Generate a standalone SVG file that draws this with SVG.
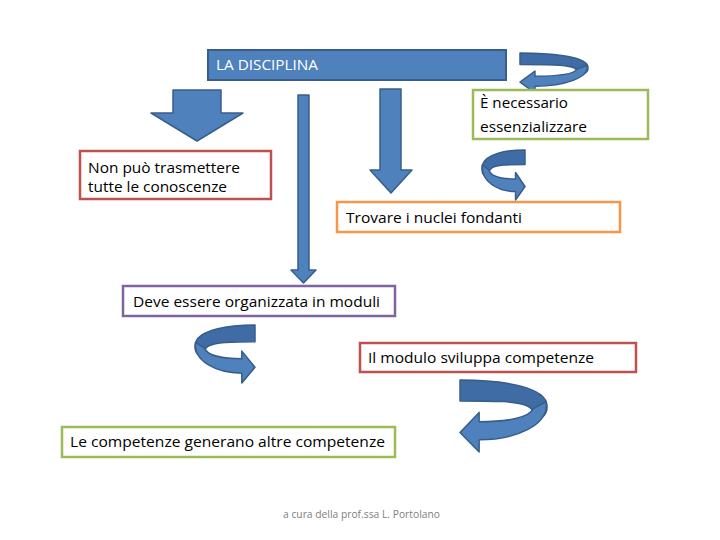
<svg xmlns="http://www.w3.org/2000/svg" width="720" height="540" viewBox="0 0 720 540">
<style>
.box{fill:#fff;stroke-width:2.5}
.t{font-family:"Open Sans","Liberation Sans",sans-serif;font-size:14.5px;fill:#000}
.arr{fill:#4F81BD;stroke:#385D8A;stroke-width:1.5;stroke-linejoin:round}
.back{fill:#3F6CA5;stroke:#385D8A;stroke-width:1.5;vector-effect:non-scaling-stroke;stroke-linejoin:round}
.front{fill:#4F81BD;stroke:#385D8A;stroke-width:1.5;vector-effect:non-scaling-stroke;stroke-linejoin:round}
</style>
<defs>
<g id="curl">
<path class="back" d="M0,0 C45,0 92,8 99,30 C101,38 100,45 96,50 L82,46 C86,38 75,32 50,30 C30,29 15,29 0,29 Z"/>
<path class="front" d="M99,30 C103,62 65,83 22,83 L22,100 L0,73 L22,45 L22,58 C55,58 80,52 84,40 Z"/>
</g>
</defs>
<rect width="720" height="540" fill="#fff"/>
<g id="connectors">
<path class="arr" d="M173,90 H221 V113 H243 L197,141 L151,113 H173 Z"/>
<path class="arr" d="M298,95 H309 V270 H316 L303.5,283 L291,270 H298 Z"/>
<path class="arr" d="M380,89 H401 V170 H412 L391,193 L370,170 H380 Z"/>
<use href="#curl" transform="translate(520,53) scale(0.68,0.40)"/>
<use href="#curl" transform="translate(525,150) scale(-0.43,0.50)"/>
<use href="#curl" transform="translate(255,325) scale(-0.60,0.58)"/>
<use href="#curl" transform="translate(460,380) scale(0.87,0.72)"/>
</g>
<g id="n-disciplina">
<rect x="208" y="50" width="298" height="30" fill="#4F81BD" stroke="#385D8A" stroke-width="2"/>
<text class="t" x="216" y="70" style="fill:#fff" textLength="102" lengthAdjust="spacingAndGlyphs">LA DISCIPLINA</text>
</g>
<g id="n-nonpuo">
<rect class="box" x="80" y="151" width="191" height="48" stroke="#C0504D"/>
<text class="t" x="88" y="173" textLength="152" lengthAdjust="spacingAndGlyphs">Non può trasmettere</text>
<text class="t" x="88" y="192" textLength="139" lengthAdjust="spacingAndGlyphs">tutte le conoscenze</text>
</g>
<g id="n-necessario">
<rect class="box" x="473" y="90" width="175" height="49" stroke="#9BBB59"/>
<text class="t" x="480" y="108" textLength="88" lengthAdjust="spacingAndGlyphs">È necessario</text>
<text class="t" x="480" y="132" textLength="107" lengthAdjust="spacingAndGlyphs">essenzializzare</text>
</g>
<g id="n-trovare">
<rect class="box" x="337" y="202" width="283" height="30" stroke="#F79646"/>
<text class="t" x="346" y="223" textLength="176" lengthAdjust="spacingAndGlyphs">Trovare i nuclei fondanti</text>
</g>
<g id="n-deve">
<rect class="box" x="123" y="286" width="272" height="30" stroke="#8064A2"/>
<text class="t" x="133" y="307" textLength="247" lengthAdjust="spacingAndGlyphs">Deve essere organizzata in moduli</text>
</g>
<g id="n-modulo">
<rect class="box" x="360" y="343" width="276" height="29" stroke="#C0504D"/>
<text class="t" x="368" y="363" textLength="226" lengthAdjust="spacingAndGlyphs">Il modulo sviluppa competenze</text>
</g>
<g id="n-competenze">
<rect class="box" x="62" y="427" width="333" height="30" stroke="#9BBB59"/>
<text class="t" x="70" y="447" textLength="315" lengthAdjust="spacingAndGlyphs">Le competenze generano altre competenze</text>
</g>
<g id="footer">
<text x="283" y="518" font-family="'Open Sans','Liberation Sans',sans-serif" font-size="10" fill="#808080" textLength="157" lengthAdjust="spacingAndGlyphs">a cura della prof.ssa L. Portolano</text>
</g>
</svg>
